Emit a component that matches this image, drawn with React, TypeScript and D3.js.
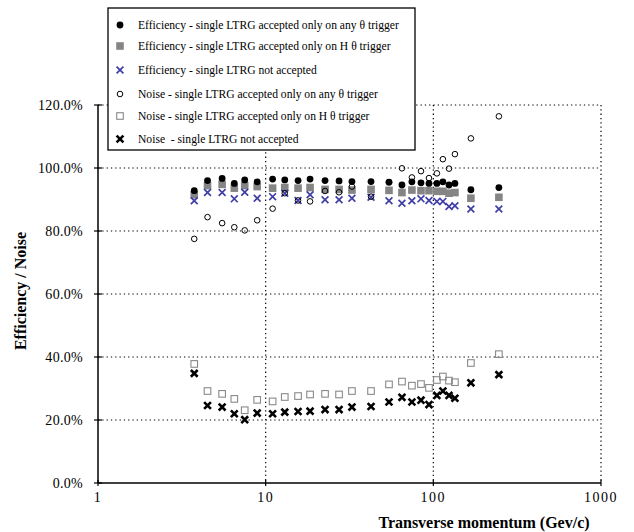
import React, { useRef, useEffect } from "react";
import * as d3 from "d3";

// transverse momentum bins (GeV/c)
const momentum = [3.75, 4.5, 5.5, 6.5, 7.5, 8.9, 11, 13, 15.6, 18.4, 22.6, 27.4, 32.7, 42.5, 54.4, 65, 74.5, 84.4, 94.2, 105, 114, 124, 134.5, 167.5, 246];

const effAny = [92.8, 96.0, 96.7, 95.1, 96.2, 95.6, 96.5, 96.2, 96.0, 96.5, 96.0, 95.9, 95.7, 95.7, 95.5, 94.6, 95.6, 95.3, 95.1, 95.1, 95.6, 94.6, 95.1, 93.1, 93.8];
const effH = [91.5, 94.4, 94.8, 93.6, 94.4, 94.1, 93.6, 93.8, 93.6, 93.8, 93.2, 93.2, 93.0, 93.2, 92.9, 92.2, 93.0, 92.8, 92.8, 92.6, 92.6, 92.0, 92.2, 90.4, 90.7];
const effNot = [89.6, 92.2, 92.2, 90.2, 92.3, 90.4, 90.9, 92.0, 89.7, 91.5, 89.9, 89.9, 90.4, 90.7, 89.6, 88.8, 89.6, 90.2, 89.7, 89.4, 89.4, 87.8, 88.0, 87.0, 87.0];
const noiseAny = [77.5, 84.4, 82.5, 81.2, 80.2, 83.4, 87.1, 92.0, 89.7, 89.4, 92.7, 92.3, 94.1, 90.9, 95.5, 99.9, 97.0, 99.0, 96.8, 98.3, 102.8, 99.8, 104.4, 109.4, 116.4];
const noiseH = [37.8, 29.2, 28.3, 26.7, 23.1, 26.4, 25.9, 27.3, 27.6, 28.1, 28.3, 28.1, 29.2, 29.2, 31.3, 32.2, 30.9, 31.4, 30.2, 32.7, 33.8, 32.5, 32.0, 38.1, 40.9];
const noiseNot = [34.8, 24.6, 24.1, 22.0, 20.1, 22.2, 22.0, 22.5, 22.7, 22.8, 23.3, 23.3, 24.1, 24.3, 25.7, 27.2, 25.7, 26.3, 24.9, 27.8, 29.2, 27.8, 26.9, 31.8, 34.4];

const xTicks = [1, 10, 100, 1000];
const yTicks = [0, 20, 40, 60, 80, 100, 120];

const legendLabels = [
  "Efficiency - single LTRG accepted only on any θ trigger",
  "Efficiency - single LTRG accepted only on H θ trigger",
  "Efficiency - single LTRG not accepted",
  "Noise - single LTRG accepted only on any θ trigger",
  "Noise - single LTRG accepted only on H θ trigger",
  "Noise  - single LTRG not accepted",
];

const serif = "Liberation Serif, Tinos, Times New Roman, DejaVu Serif, serif";
const blue = "#3f3fa6";

type Kind = "dot" | "square" | "thinx" | "circle" | "opensquare" | "boldx";

function drawMarker(g: d3.Selection<SVGGElement, unknown, null, undefined>, kind: Kind, cx: number, cy: number) {
  if (kind === "dot") {
    g.append("circle").attr("cx", cx).attr("cy", cy).attr("r", 3.4).attr("fill", "#000");
  } else if (kind === "square") {
    g.append("rect").attr("x", cx - 3.8).attr("y", cy - 3.8).attr("width", 7.6).attr("height", 7.6).attr("fill", "#858585");
  } else if (kind === "circle") {
    g.append("circle").attr("cx", cx).attr("cy", cy).attr("r", 2.8).attr("fill", "none").attr("stroke", "#000").attr("stroke-width", 1);
  } else if (kind === "opensquare") {
    g.append("rect").attr("x", cx - 3.3).attr("y", cy - 3.3).attr("width", 6.6).attr("height", 6.6).attr("fill", "none").attr("stroke", "#8a8a8a").attr("stroke-width", 1.1);
  } else {
    const s = 3.4;
    g.append("path")
      .attr("d", `M${cx - s},${cy - s}L${cx + s},${cy + s}M${cx - s},${cy + s}L${cx + s},${cy - s}`)
      .attr("stroke", kind === "thinx" ? blue : "#000")
      .attr("stroke-width", kind === "thinx" ? 1.7 : 2.6)
      .attr("fill", "none");
  }
}

const App: React.FC = () => {
  const ref = useRef<SVGSVGElement | null>(null);

  useEffect(() => {
    if (!ref.current) return;
    const svg = d3.select(ref.current);
    svg.selectAll("*").remove();

    const x = d3.scaleLog().domain([1, 1000]).range([98, 601]);
    const y = d3.scaleLinear().domain([0, 120]).range([483, 105]);

    // grid
    const grid = svg.append("g").attr("stroke", "#000").attr("stroke-width", 1.2).attr("stroke-dasharray", "1.3,3");
    yTicks.filter((t) => t > 0).forEach((t) => {
      grid.append("line").attr("x1", x(1)).attr("x2", x(1000)).attr("y1", y(t)).attr("y2", y(t));
    });
    xTicks.filter((t) => t > 1).forEach((t) => {
      grid.append("line").attr("x1", x(t)).attr("x2", x(t)).attr("y1", y(120)).attr("y2", y(0));
    });

    // axes
    svg.append("line").attr("x1", x(1)).attr("x2", x(1)).attr("y1", y(120)).attr("y2", y(0)).attr("stroke", "#000").attr("stroke-width", 1.5);
    svg.append("line").attr("x1", x(1)).attr("x2", x(1000)).attr("y1", y(0)).attr("y2", y(0)).attr("stroke", "#000").attr("stroke-width", 1.5);

    yTicks.forEach((t) => {
      svg.append("line").attr("x1", x(1) - 4).attr("x2", x(1) + 4).attr("y1", y(t)).attr("y2", y(t)).attr("stroke", "#000").attr("stroke-width", 1.2);
      svg.append("text")
        .attr("x", 83).attr("y", y(t) + 4.5)
        .attr("text-anchor", "end")
        .attr("font-family", serif).attr("font-size", 14)
        .attr("letter-spacing", 0.3)
        .text(`${t.toFixed(1)}%`);
    });
    xTicks.forEach((t) => {
      svg.append("line").attr("x1", x(t)).attr("x2", x(t)).attr("y1", y(0) - 3).attr("y2", y(0) + 3).attr("stroke", "#000").attr("stroke-width", 1.2);
      svg.append("text")
        .attr("x", x(t)).attr("y", y(0) + 19)
        .attr("text-anchor", "middle")
        .attr("font-family", serif).attr("font-size", 14)
        .attr("letter-spacing", 1.5)
        .text(String(t));
    });

    // axis titles
    svg.append("text")
      .attr("x", 484).attr("y", 528)
      .attr("text-anchor", "middle")
      .attr("font-family", serif).attr("font-size", 16).attr("font-weight", "bold")
      .text("Transverse momentum (Gev/c)");
    svg.append("text")
      .attr("transform", `translate(26,291) rotate(-90)`)
      .attr("text-anchor", "middle")
      .attr("font-family", serif).attr("font-size", 16).attr("font-weight", "bold")
      .text("Efficiency / Noise");

    // data
    const series: { values: number[]; kind: Kind }[] = [
      { values: noiseH, kind: "opensquare" },
      { values: noiseNot, kind: "boldx" },
      { values: effH, kind: "square" },
      { values: effNot, kind: "thinx" },
      { values: noiseAny, kind: "circle" },
      { values: effAny, kind: "dot" },
    ];
    const pts = svg.append("g");
    series.forEach((s) => {
      s.values.forEach((v, i) => drawMarker(pts, s.kind, x(momentum[i]), y(v)));
    });

    // legend
    const lg = svg.append("g");
    lg.append("rect").attr("x", 108).attr("y", 8).attr("width", 307).attr("height", 142)
      .attr("fill", "#fff").attr("stroke", "#000").attr("stroke-width", 1.3);
    const kinds: Kind[] = ["dot", "square", "thinx", "circle", "opensquare", "boldx"];
    const rowY = [25, 46, 70, 94, 116, 139];
    legendLabels.forEach((label, i) => {
      drawMarker(lg, kinds[i], 120, rowY[i]);
      lg.append("text")
        .attr("x", 138).attr("y", rowY[i] + 4)
        .attr("font-family", serif).attr("font-size", 11.6)
        .attr("xml:space", "preserve")
        .text(label);
    });
  }, []);

  return (
    <div style={{ position: "absolute", left: 0, top: 0 }}>
      <svg ref={ref} width={634} height={532} style={{ display: "block", background: "#fff" }} />
    </div>
  );
};

export default App;
